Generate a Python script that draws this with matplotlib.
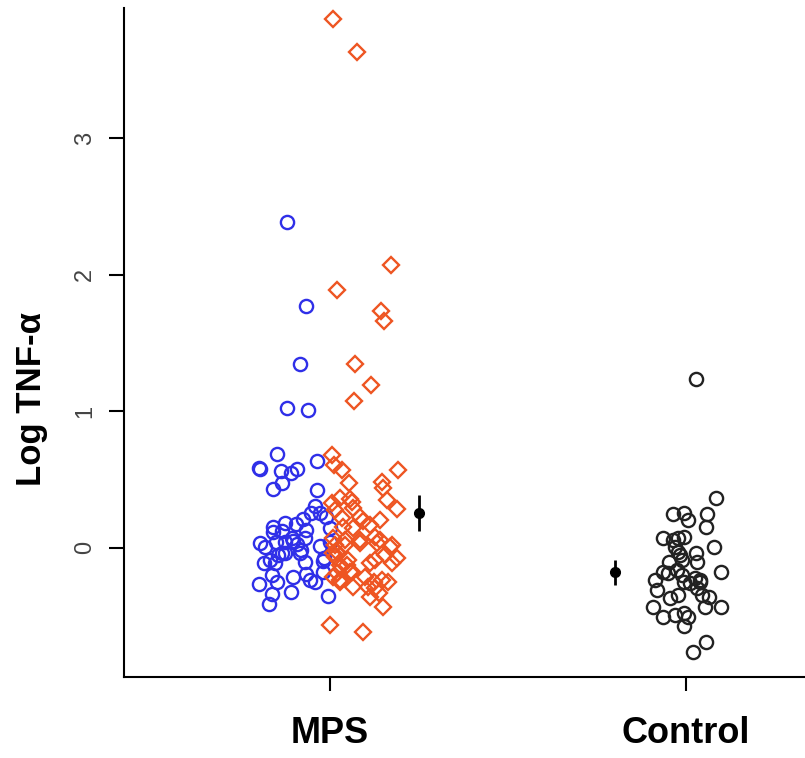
import matplotlib.pyplot as plt

# MPS, blue circles (x = jittered group position, y = log TNF-a)
mps_blue_x = [0.879, 0.933, 0.916, 0.879, 0.938, 0.850, 0.801, 0.803, 0.862, 0.890,
              0.908, 0.963, 0.866, 0.839, 0.963, 0.958, 0.946, 0.972, 0.989, 0.925,
              0.904, 0.874, 0.841, 0.839, 0.864, 0.933, 1.000, 0.892, 0.930, 0.803,
              0.816, 0.848, 0.908, 0.919, 0.972, 0.874, 0.916, 0.855, 0.830, 0.813,
              0.846, 0.930, 0.981, 0.981, 0.836, 0.897, 0.933, 0.944, 0.958, 0.850,
              0.801, 0.890, 0.836, 0.995, 0.827, 0.874, 0.896, 1.000, 0.983, 0.864]
mps_blue_y = [2.385, 1.770, 1.346, 1.024, 1.010, 0.685, 0.587, 0.580, 0.565, 0.546,
              0.580, 0.639, 0.473, 0.429, 0.424, 0.307, 0.258, 0.254, 0.229, 0.212,
              0.176, 0.181, 0.156, 0.115, 0.127, 0.132, 0.144, 0.071, 0.071, 0.034,
              0.010, 0.046, 0.030, -0.015, 0.017, -0.034, -0.034, -0.051, -0.088, -0.112,
              -0.112, -0.100, -0.095, -0.173, -0.198, -0.210, -0.190, -0.234, -0.246, -0.246,
              -0.263, -0.320, -0.336, -0.349, -0.410, 0.040, 0.050, 0.046, -0.075, -0.040]

# MPS, orange diamonds
mps_orange_x = [1.008, 1.076, 1.171, 1.020, 1.143, 1.152, 1.070, 1.115, 1.067,
                1.005, 1.011, 1.033, 1.192, 1.054, 1.145, 1.150, 1.159, 1.187, 1.028,
                1.056, 1.061, 1.005, 1.014, 1.065, 1.033, 1.084, 1.093, 1.140, 1.112,
                1.065, 1.037, 1.009, 1.042, 1.084, 1.126, 1.140, 1.173, 1.014, 1.042,
                1.084, 1.131, 1.169, 1.009, 1.051, 1.028, 1.019, 1.061, 1.112, 1.126,
                1.154, 1.187, 1.173, 1.098, 1.065, 1.122, 1.145, 1.164, 1.136, 1.150,
                1.000, 1.093, 1.107, 1.028, 1.019, 1.014, 1.047, 1.056, 1.009, 1.028,
                1.126, 1.112]
mps_orange_y = [3.870, 3.630, 2.070, 1.887, 1.734, 1.660, 1.346, 1.190, 1.075,
                0.680, 0.607, 0.570, 0.570, 0.473, 0.485, 0.437, 0.351, 0.285, 0.364,
                0.356, 0.339, 0.327, 0.278, 0.290, 0.217, 0.229, 0.200, 0.205, 0.168,
                0.144, 0.151, 0.071, 0.059, 0.059, 0.083, 0.059, 0.022, 0.022, 0.022,
                0.034, 0.039, 0.010, -0.039, -0.088, -0.124, -0.185, -0.173, -0.112, -0.088,
                -0.051, -0.075, -0.112, -0.210, -0.283, -0.246, -0.234, -0.246, -0.332, -0.429,
                -0.563, -0.612, -0.283, -0.234, -0.027, -0.063, -0.124, -0.173, -0.210, -0.246,
                -0.290, -0.356]

# Control, black circles
ctrl_x = [2.028, 2.084, 1.964, 1.994, 2.006, 2.058, 2.056, 1.936, 1.964, 1.978,
          1.994, 1.969, 1.978, 1.983, 1.988, 2.079, 2.028, 2.032, 1.953, 1.934,
          1.950, 1.913, 1.918, 2.097, 1.988, 1.993, 2.025, 2.039, 2.030, 2.044,
          2.063, 1.978, 1.955, 1.906, 1.936, 1.969, 1.993, 2.006, 1.993, 2.052,
          2.099, 2.056, 2.019, 2.011, 2.039, 1.974]
ctrl_y = [1.236, 0.368, 0.246, 0.258, 0.205, 0.249, 0.156, 0.071, 0.059, 0.071,
          0.083, 0.010, -0.027, -0.051, -0.088, 0.005, -0.034, -0.100, -0.100, -0.173,
          -0.185, -0.234, -0.307, -0.178, -0.198, -0.246, -0.222, -0.246, -0.295, -0.344,
          -0.356, -0.344, -0.368, -0.429, -0.502, -0.490, -0.478, -0.502, -0.575, -0.429,
          -0.429, -0.685, -0.759, -0.259, -0.234, -0.161]

# group means with error bars
mean_x = [1.25, 1.80]
mean_y = [0.258, -0.173]
err_lo = [0.131, 0.095]
err_hi = [0.130, 0.085]

group_pos = [1, 2]
group_labels = ["MPS", "Control"]
y_ticks = [0, 1, 2, 3]

plt.rcParams['font.family'] = ['Liberation Sans', 'DejaVu Sans']

fig = plt.figure(figsize=(8.05, 7.58), dpi=100)
ax = fig.add_axes([0.154, 0.107, 0.846, 0.882])

ax.plot(mps_blue_x, mps_blue_y, 'o', ms=9.5, mfc='none', mec='#2f2fe8', mew=1.7)
ax.plot(mps_orange_x, mps_orange_y, 'D', ms=8.5, mfc='none', mec='#ee5522', mew=1.7)
ax.plot(ctrl_x, ctrl_y, 'o', ms=9.5, mfc='none', mec='#222222', mew=1.7)
ax.errorbar(mean_x, mean_y, yerr=[err_lo, err_hi], fmt='o', color='black',
            ms=7, elinewidth=2, capsize=0)

ax.set_xlim(0.421, 2.334)
ax.set_ylim(-0.944, 3.95)

ax.set_xticks(group_pos)
ax.set_xticklabels(group_labels, fontsize=26, fontweight='bold')
ax.set_yticks(y_ticks)
ax.set_yticklabels([str(t) for t in y_ticks], fontsize=17, color='#444444',
                   rotation=90, va='center')
ax.tick_params(axis='x', length=10, width=1.5, pad=18)
ax.tick_params(axis='y', length=11, width=1.5, pad=9)

ax.set_ylabel("Log TNF-α", fontsize=25, fontweight='bold')
ax.yaxis.set_label_coords(-0.112, 0.415)

for side in ['top', 'right']:
    ax.spines[side].set_visible(False)
for side in ['left', 'bottom']:
    ax.spines[side].set_linewidth(1.5)

fig.savefig("out.png", dpi=100)
